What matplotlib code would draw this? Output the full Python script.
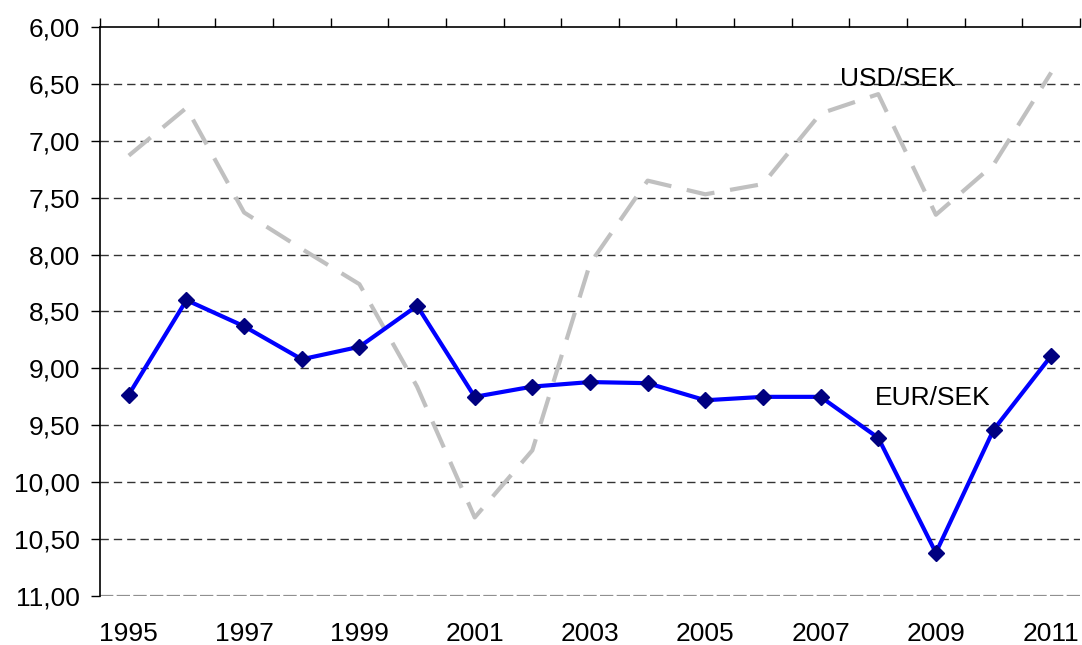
import matplotlib
matplotlib.use("Agg")
import matplotlib.pyplot as plt
from matplotlib.ticker import FixedLocator, FixedFormatter

years = list(range(1995, 2012))
eur_sek = [9.23, 8.40, 8.63, 8.92, 8.81, 8.45, 9.25, 9.16, 9.12, 9.13,
           9.28, 9.25, 9.25, 9.61, 10.62, 9.54, 8.89]
usd_sek = [7.13, 6.71, 7.63, 7.95, 8.26, 9.16, 10.31, 9.72, 8.08, 7.35,
           7.47, 7.38, 6.76, 6.59, 7.65, 7.21, 6.40]
y_ticks = [6.0, 6.5, 7.0, 7.5, 8.0, 8.5, 9.0, 9.5, 10.0, 10.5, 11.0]
y_labels = ["6,00", "6,50", "7,00", "7,50", "8,00", "8,50", "9,00",
            "9,50", "10,00", "10,50", "11,00"]
x_label_years = years[::2]

plt.rcParams['font.family'] = ['Liberation Sans', 'DejaVu Sans']
FS = 19

fig = plt.figure(figsize=(10.82, 6.45), dpi=100)
ax = fig.add_axes([100 / 1082, (645 - 596) / 645, 980 / 1082, 569 / 645])

x = list(range(len(years)))

# grid lines
for yv in y_ticks[1:-1]:
    ax.axhline(yv, color='#333333', lw=1.0, ls=(0, (6, 3.6)), zorder=1)
ax.axhline(y_ticks[-1], color='#909090', lw=1.6, ls=(0, (6, 1.5)), zorder=1)

ax.plot(x, usd_sek, color='#C0C0C0', lw=3.0, ls=(0, (6.8, 3.8)), zorder=2)
ax.plot(x, eur_sek, color='#0000FF', lw=3.0, marker='D', markersize=8.5,
        markerfacecolor='#000080', markeredgecolor='#000080', zorder=3)

ax.text(13.34, 6.515, "USD/SEK", fontsize=FS, ha='center', va='baseline', zorder=4)
ax.text(13.95, 9.32, "EUR/SEK", fontsize=FS, ha='center', va='baseline', zorder=4)

ax.set_xlim(-0.5, len(years) - 0.5)
ax.set_ylim(11.0, 6.0)

ax.yaxis.set_major_locator(FixedLocator(y_ticks))
ax.yaxis.set_major_formatter(FixedFormatter(y_labels))
ax.tick_params(axis='y', which='major', length=6.5, width=1, labelsize=FS,
               pad=8, color='#000000', direction='out')

ax.xaxis.set_major_locator(FixedLocator([years.index(yv) for yv in x_label_years]))
ax.xaxis.set_major_formatter(FixedFormatter([str(yv) for yv in x_label_years]))
ax.xaxis.set_minor_locator(FixedLocator([i - 0.5 for i in range(len(years) + 1)]))
ax.tick_params(axis='x', which='major', length=0, labelsize=FS, pad=18.5)
ax.tick_params(axis='x', which='minor', top=True, bottom=False, length=6.5,
               width=1, direction='out')

for side in ['right', 'bottom']:
    ax.spines[side].set_visible(False)
ax.spines['top'].set_linewidth(1.2)
ax.spines['left'].set_linewidth(1.2)

fig.savefig("out.png", dpi=100)
